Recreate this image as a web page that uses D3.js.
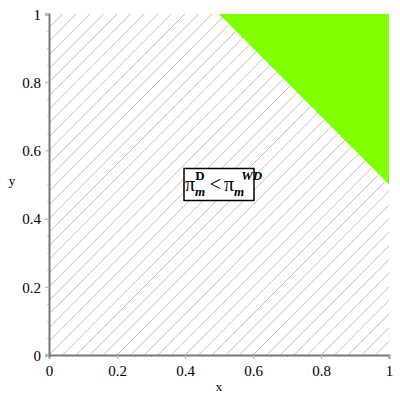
<!DOCTYPE html>
<html>
<head>
<meta charset="utf-8">
<script src="https://cdn.jsdelivr.net/npm/d3@7"></script>
<style>
  body { margin: 0; background: #fff; }
</style>
</head>
<body>
<div id="chart"></div>
<script>
// tick values for both axes
const ticks = [0, 0.2, 0.4, 0.6, 0.8, 1];
const minorTicks = d3.range(0, 1.0001, 0.05);
// region where pi_m^D < pi_m^WD does not hold (green)
const regionX = [0.5, 1, 1];
const regionY = [1, 1, 0.5];
// hatch lines x - y = c
const hatchC = d3.range(-1, 1.0001, 0.04);
// label position
const labelX = [0.5];
const labelY = [0.5];

const serif = "'Liberation Serif', 'Times New Roman', serif";

const margin = {top: 14, right: 11, bottom: 45, left: 49},
      width = 400 - margin.left - margin.right,
      height = 400 - margin.top - margin.bottom;

const svg = d3.select("#chart")
              .append("svg")
              .attr("width", 400)
              .attr("height", 400)
              .style("font-family", serif)
              .append("g")
              .attr("transform", `translate(${margin.left},${margin.top})`);

const x = d3.scaleLinear().domain([0, 1]).range([0, width]);
const y = d3.scaleLinear().domain([0, 1]).range([height, 0]);

svg.append("clipPath")
   .attr("id", "plotclip")
   .append("rect")
   .attr("width", width)
   .attr("height", height);

// hatch lines, clipped to the plot box
const hatch = svg.append("g").attr("clip-path", "url(#plotclip)");
hatch.selectAll("line")
     .data(hatchC)
     .join("line")
     .attr("x1", c => x(c))
     .attr("y1", y(0))
     .attr("x2", c => x(c + 1))
     .attr("y2", y(1))
     .attr("stroke", "#bdbdbd")
     .attr("stroke-width", 1);

// green triangle
svg.append("path")
   .datum(d3.zip(regionX, regionY))
   .attr("d", d3.line().x(d => x(d[0])).y(d => y(d[1])).curve(d3.curveLinearClosed))
   .attr("fill", "#80ff00");

// minor ticks
svg.append("g")
   .attr("transform", `translate(0,${height})`)
   .call(d3.axisBottom(x).tickValues(minorTicks).tickSize(2).tickFormat(""))
   .call(g => g.select(".domain").remove())
   .selectAll("line").attr("stroke", "#ccc");
svg.append("g")
   .call(d3.axisLeft(y).tickValues(minorTicks).tickSize(2).tickFormat(""))
   .call(g => g.select(".domain").remove())
   .selectAll("line").attr("stroke", "#ccc");

// x axis
const xAxis = svg.append("g")
   .attr("transform", `translate(0,${height})`)
   .call(d3.axisBottom(x).tickValues(ticks).tickSize(4).tickPadding(6).tickFormat(d3.format("")));
xAxis.attr("font-family", serif);
xAxis.select(".domain").attr("stroke", "#777").attr("stroke-width", 2);
xAxis.selectAll("line").attr("stroke", "#bbb");
xAxis.selectAll("text").style("font-size", "15px").style("font-family", serif).attr("fill", "#000");

// y axis
const yAxis = svg.append("g")
   .call(d3.axisLeft(y).tickValues(ticks).tickSize(4).tickPadding(4).tickFormat(d3.format("")));
yAxis.attr("font-family", serif);
yAxis.select(".domain").attr("stroke", "#777").attr("stroke-width", 2);
yAxis.selectAll("line").attr("stroke", "#bbb");
yAxis.selectAll("text").style("font-size", "15px").style("font-family", serif).attr("fill", "#000").attr("dy", "0.35em");

// axis titles
svg.append("text")
   .attr("x", width / 2)
   .attr("y", height + 36)
   .attr("text-anchor", "middle")
   .style("font-size", "13px")
   .text("x");
svg.append("text")
   .attr("x", -37)
   .attr("y", height / 2)
   .attr("text-anchor", "middle")
   .style("font-size", "13px")
   .text("y");

// label box
const lab = svg.append("g")
   .attr("transform", `translate(${x(labelX[0])},${y(labelY[0])})`);
lab.append("rect")
   .attr("x", -35)
   .attr("y", -16)
   .attr("width", 70)
   .attr("height", 32)
   .attr("fill", "#fff")
   .attr("stroke", "#000")
   .attr("stroke-width", 1.5);
const t = lab.append("text")
   .attr("x", -34)
   .attr("y", 6)
   .style("font-size", "20px");
t.append("tspan").text("π");
t.append("tspan").attr("dy", 5).style("font-size", "13px").style("font-style", "italic").style("font-weight", "bold").text("m");
t.append("tspan").attr("dx", -10).attr("dy", -16).style("font-size", "13px").style("font-weight", "bold").text("D");
t.append("tspan").attr("dx", 5).attr("dy", 11).text("<");
t.append("tspan").attr("dx", 3).text("π");
t.append("tspan").attr("dy", 5).style("font-size", "13px").style("font-style", "italic").style("font-weight", "bold").text("m");
t.append("tspan").attr("dx", -3).attr("dy", -16).style("font-size", "13px").style("font-style", "italic").style("font-weight", "bold").text("WD");
</script>
</body>
</html>
